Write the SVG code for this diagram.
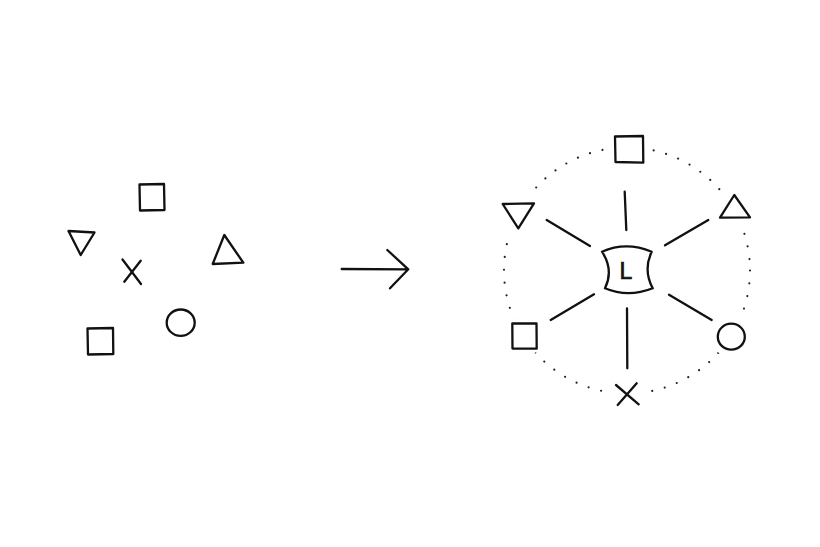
<svg xmlns="http://www.w3.org/2000/svg" width="820" height="547" viewBox="0 0 820 547">
<style>
.s{fill:none;stroke:#111;stroke-width:2.3;stroke-linecap:round;stroke-linejoin:round}
.d{fill:none;stroke:#222;stroke-width:2.2;stroke-linecap:round;stroke-dasharray:0 12.9}
.t{font-family:"Liberation Sans",Arial,sans-serif;font-size:23px;fill:#111;stroke:#111;stroke-width:0.7}
</style>
<defs>
<mask id="m">
<rect width="820" height="547" fill="#fff"/>
<circle cx="629" cy="149" r="21" fill="#000"/>
<circle cx="735" cy="208" r="22" fill="#000"/>
<circle cx="731" cy="337" r="20" fill="#000"/>
<circle cx="627" cy="394" r="20" fill="#000"/>
<circle cx="524" cy="336" r="20" fill="#000"/>
<circle cx="518" cy="213" r="22" fill="#000"/>
</mask>
</defs>
<rect width="820" height="547" fill="#fff"/>

<g id="before">
<g id="l-square-top"><path class="s" d="M139.5,184.5 L164,184 L164.5,210 L140,210.5 Z"/></g>
<g id="l-tri-down"><path class="s" d="M68.5,231 L94.5,232.5 L80.7,255 Z"/></g>
<g id="l-x"><path class="s" d="M122.5,259.5 L141,284 M140.7,260.7 L124.3,281.7"/></g>
<g id="l-tri-up"><path class="s" d="M224.3,235 L243.3,262.7 L212.7,264 Z"/></g>
<g id="l-circle"><ellipse class="s" cx="180.7" cy="322.7" rx="14" ry="13.2"/></g>
<g id="l-square-bottom"><path class="s" d="M87.5,328.5 L113,328 L113.3,354 L88,354.5 Z"/></g>
</g>

<g id="arrow"><path class="s" d="M341.7,269 L408.3,269.3 M387.3,250 L408.3,269.3 L390,288.3"/></g>

<g id="after">
<g id="ring"><circle class="d" cx="627" cy="270.5" r="123" mask="url(#m)"/></g>
<g id="connectors">
<path class="s" d="M624.7,191.7 L626.3,230"/>
<path class="s" d="M546.7,220 L590,246"/>
<path class="s" d="M665,245.3 L708.3,220"/>
<path class="s" d="M550.7,320 L594,294.3"/>
<path class="s" d="M669,294.7 L711.7,320"/>
<path class="s" d="M627,308.3 L627.3,368.3"/>
</g>
<g id="center"><path class="s" d="M602,251.7 Q626,241 651.7,251.7 Q643,270 652.7,288.3 Q628,298 605,288.3 Q614,270 602,251.7 Z"/><text class="t" x="619.5" y="279">L</text></g>
<g id="r-square-top"><path class="s" d="M615,136.5 L643,136 L643.3,162.7 L615.5,162 Z"/></g>
<g id="r-tri-down"><path class="s" d="M502.7,204 L534,203.3 L518.3,228.3 Z"/></g>
<g id="r-tri-up"><path class="s" d="M734.3,195 L750,217.3 L720,217.7 Z"/></g>
<g id="r-circle"><ellipse class="s" cx="731.3" cy="336.7" rx="13.5" ry="13"/></g>
<g id="r-x"><path class="s" d="M616,385 L638.7,404.3 M636.7,383.3 L617.7,405"/></g>
<g id="r-square-bottom"><path class="s" d="M512.3,323.5 L536.5,323.3 L536.7,348.7 L512.5,348.5 Z"/></g>
</g>
</svg>
